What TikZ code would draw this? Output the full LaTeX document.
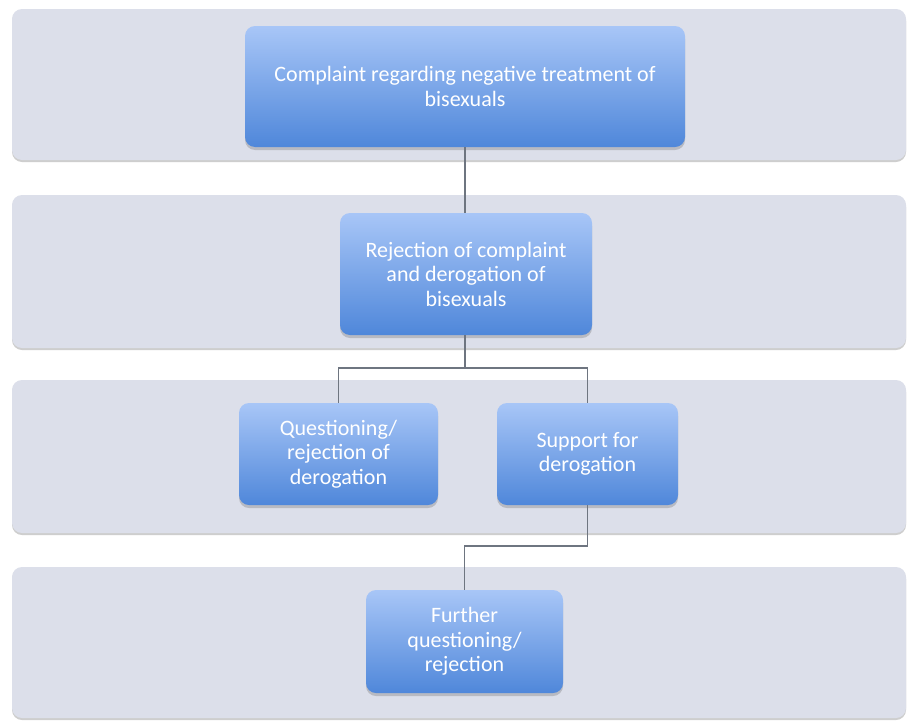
\documentclass[tikz,border=0pt]{standalone}
\usepackage{fontspec}
\setmainfont{Carlito}
\usetikzlibrary{shadows}
\definecolor{bandfill}{HTML}{DCDFEA}
\definecolor{boxtop}{HTML}{A8C6F7}
\definecolor{boxbot}{HTML}{4F87DA}
\definecolor{linegray}{HTML}{6E7580}
\tikzset{
  band/.style={draw=none, fill=bandfill, rounded corners=10pt, inner sep=0pt, outer sep=0pt,
    drop shadow={shadow xshift=0pt, shadow yshift=-2pt, opacity=0.35, fill=black!55}},
  stepbox/.style={draw=none, rounded corners=10pt, top color=boxtop, bottom color=boxbot,
    text=white, align=center, inner sep=0pt, outer sep=0pt,
    font=\fontsize{22}{24.5}\selectfont,
    drop shadow={shadow xshift=0pt, shadow yshift=-3pt, opacity=0.3, fill=black!60}},
  link/.style={draw=linegray, line width=1.3pt}
}
\begin{document}
\begin{tikzpicture}[x=1pt,y=-1pt]
\useasboundingbox (0,0) rectangle (909,720);
\fill[white] (0,0) rectangle (909,720);
% bands
\node[band, minimum width=894pt, minimum height=151pt] (b1) at (459,84.5) {};
\node[band, minimum width=894pt, minimum height=153pt] (b2) at (459,271.5) {};
\node[band, minimum width=894pt, minimum height=153pt] (b3) at (459,456.5) {};
\node[band, minimum width=894pt, minimum height=151pt] (b4) at (459,642.5) {};
% boxes
\node[stepbox, minimum width=440pt, minimum height=121pt] (c1) at (465,86.5)
  {Complaint regarding negative treatment of\\bisexuals};
\node[stepbox, minimum width=252pt, minimum height=122pt] (c2) at (466,274)
  {Rejection of complaint\\and derogation of\\bisexuals};
\node[stepbox, minimum width=199pt, minimum height=102pt] (c3) at (338.5,454)
  {Questioning/\\rejection of\\derogation};
\node[stepbox, minimum width=181pt, minimum height=102pt] (c4) at (587.5,454)
  {Support for\\derogation};
\node[stepbox, minimum width=197pt, minimum height=103pt] (c5) at (464.5,641.5)
  {Further\\questioning/\\rejection};
% connectors
\coordinate (fork) at (465,368);
\coordinate (elbow) at (587.5,546);
\draw[link] (c1.south) -- (c2.north -| c1.south);
\draw[link] (c2.south -| c1.south) -- (fork);
\draw[link] (c3.north) |- (fork) -| (c4.north);
\draw[link] (c4.south) -- (elbow) -| (c5.north);
\end{tikzpicture}
\end{document}
